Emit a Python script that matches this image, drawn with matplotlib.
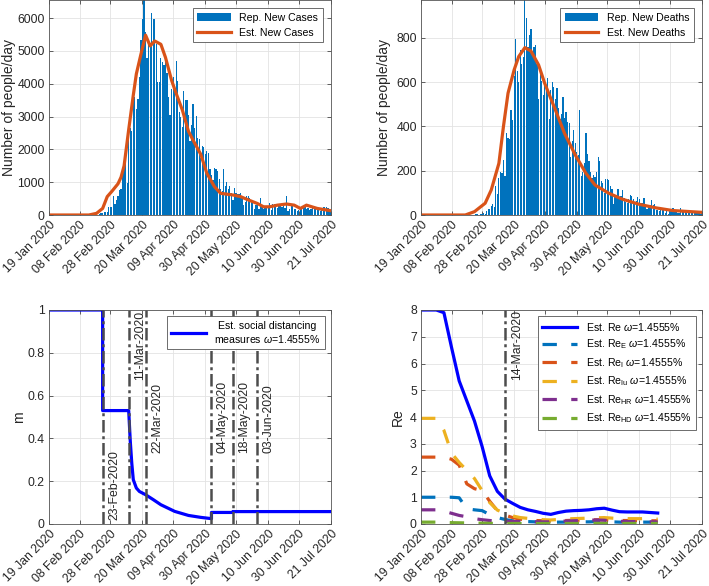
import numpy as np
import pandas as pd
import matplotlib
matplotlib.use('Agg')
import matplotlib.pyplot as plt
import matplotlib.ticker as mticker

plt.rcParams['font.family'] = ['Liberation Sans', 'DejaVu Sans']
plt.rcParams['mathtext.fontset'] = 'custom'
plt.rcParams['mathtext.rm'] = 'Liberation Sans'
plt.rcParams['mathtext.it'] = 'Liberation Sans:italic'

# ---------------- data ----------------
start_date = '2020-01-19'
end_date = '2020-07-21'
tick_dates = ['2020-01-19', '2020-02-08', '2020-02-28', '2020-03-20', '2020-04-09',
              '2020-04-30', '2020-05-20', '2020-06-10', '2020-06-30', '2020-07-21']

rep_first_day = '2020-02-21'
rep_cases = [20, 59, 71, 79, 93, 78, 250, 238, 240,
             566, 342, 466, 587, 769, 778, 1247, 1492, 1797, 977, 2313, 2651, 2547, 3497, 3590,
             3233, 3526, 4207, 5322, 5986, 6557, 5560, 4789, 5249, 5210, 6153, 5959, 5974, 5217,
             4050, 4053,
             4782, 4668, 4585, 4805, 4316, 3599, 3039, 3836, 4204, 3951, 4694, 4092, 3153, 2972,
             2667, 3786, 3493, 3491, 3047, 2256, 2729, 3370, 2646, 3021, 2357, 2324, 1739, 2091,
             2086, 1872,
             1965, 1900, 1389, 1221, 1075, 1444, 1401, 1327, 1083, 802, 744, 1402, 888, 992, 789,
             875, 675, 451, 813, 665, 642, 652, 669, 531, 300, 397, 584, 593, 516, 416, 355,
             178, 318, 321, 177, 518, 270, 197, 280, 283, 202, 379, 163, 346, 338, 301, 210, 329,
             333, 251, 262, 224, 570, 122, 190, 296, 259, 175, 174, 126, 142,
             187, 201, 223, 235, 192, 208, 138, 193, 229, 276, 188, 234, 169, 114, 162, 230, 233,
             249, 219, 190, 129]
rep_deaths = [1, 1, 1, 4, 4, 1, 5, 4, 8,
              5, 18, 27, 28, 41, 49, 36, 133, 97, 168, 196, 189, 250, 175, 368, 349, 345, 475,
              427, 627, 793, 651, 601, 743, 683, 712, 969, 889, 756, 812, 837,
              727, 760, 766, 681, 525, 636, 604, 542, 610, 570, 619, 431, 566, 602, 578, 525, 575,
              482, 433, 454, 534, 437, 464, 420, 415, 260, 333, 382, 323, 285,
              269, 474, 174, 195, 236, 369, 274, 243, 194, 165, 179, 172, 195, 262, 242, 153, 145,
              99, 162, 161, 156, 130, 119, 50, 92, 78, 117, 70, 87, 111, 75,
              60, 55, 71, 88, 85, 72, 53, 65, 79, 71, 53, 56, 78, 44, 26, 34, 43, 66, 47, 49, 24,
              23, 18, 30, 30, 30, 8, 24, 6, 23,
              21, 30, 15, 21, 7, 8, 30, 15, 12, 12, 7, 7, 13, 17, 20, 11, 13, 9, 12, 3, 15]

est_case_dates = ['2020-01-19', '2020-02-14', '2020-02-19', '2020-02-23', '2020-02-26', '2020-02-29',
                  '2020-03-04', '2020-03-06', '2020-03-08', '2020-03-11', '2020-03-14', '2020-03-16',
                  '2020-03-19', '2020-03-22', '2020-03-25', '2020-03-28', '2020-04-01', '2020-04-04',
                  '2020-04-08', '2020-04-11', '2020-04-15', '2020-04-19', '2020-04-22', '2020-04-27',
                  '2020-05-01', '2020-05-06', '2020-05-10', '2020-05-18', '2020-05-23', '2020-05-28',
                  '2020-06-03', '2020-06-07', '2020-06-11', '2020-06-16', '2020-06-22', '2020-06-27',
                  '2020-07-01', '2020-07-05', '2020-07-12', '2020-07-21']
est_cases = [0, 0, 50, 200, 560, 720, 950, 1150, 1500, 2600, 3650, 4300, 4900, 5480, 5150, 5300,
             5200, 4800, 4100, 3700, 3200, 2550, 2280, 1850, 1270, 860, 660, 610, 560, 460, 350,
             250, 250, 300, 335, 300, 200, 300, 200, 130]

est_death_dates = ['2020-01-19', '2020-02-17', '2020-02-23', '2020-03-01', '2020-03-05', '2020-03-10',
                   '2020-03-13', '2020-03-16', '2020-03-20', '2020-03-23', '2020-03-27', '2020-03-31',
                   '2020-04-05', '2020-04-09', '2020-04-16', '2020-04-22', '2020-04-29', '2020-05-06',
                   '2020-05-12', '2020-05-21', '2020-05-30', '2020-06-10', '2020-06-21', '2020-07-02',
                   '2020-07-21']
est_deaths = [0, 0, 15, 53, 113, 233, 400, 550, 655, 715, 755, 740, 677, 594, 474, 368, 271, 188,
              135, 98, 71, 48, 32, 20, 12]

m_dates = ['2020-01-19', '2020-02-23', '2020-02-23', '2020-03-11', '2020-03-12', '2020-03-13',
           '2020-03-14', '2020-03-16', '2020-03-18', '2020-03-22', '2020-03-27', '2020-04-01',
           '2020-04-10', '2020-04-19', '2020-04-27', '2020-05-04', '2020-05-04', '2020-05-18',
           '2020-05-18', '2020-07-21']
m_vals = [1.0, 1.0, 0.53, 0.53, 0.39, 0.285, 0.207, 0.168, 0.152, 0.137, 0.114, 0.09, 0.059,
          0.040, 0.031, 0.025, 0.054, 0.054, 0.058, 0.058]

measure_dates = ['2020-02-23', '2020-03-11', '2020-03-22', '2020-05-04', '2020-05-18', '2020-06-03']
measure_labels = ['23-Feb-2020', '11-Mar-2020', '22-Mar-2020', '04-May-2020', '18-May-2020', '03-Jun-2020']

re_dates = ['2020-01-19', '2020-01-24', '2020-01-29', '2020-02-03', '2020-02-08', '2020-02-13',
            '2020-02-18', '2020-02-23', '2020-02-28', '2020-03-04', '2020-03-09', '2020-03-14',
            '2020-03-19', '2020-03-24', '2020-03-29', '2020-04-03', '2020-04-08', '2020-04-13',
            '2020-04-18', '2020-04-23', '2020-04-28', '2020-05-03', '2020-05-08', '2020-05-13',
            '2020-05-18', '2020-05-23', '2020-05-28', '2020-06-02', '2020-06-07', '2020-06-12',
            '2020-06-17', '2020-06-22']
re_total = [8.0, 8.0, 8.0, 7.9, 6.6, 5.35, 4.6, 3.85, 2.9, 1.8, 1.22, 0.93, 0.77, 0.62, 0.53, 0.47,
            0.40, 0.36, 0.43, 0.48, 0.50, 0.51, 0.53, 0.57, 0.59, 0.52, 0.46, 0.45, 0.45, 0.45,
            0.43, 0.41]
re_E = [1.0, 1.0, 1.0, 1.0, 1.0, 0.98, 0.57, 0.53, 0.5, 0.35, 0.24, 0.17, 0.12, 0.1, 0.09, 0.08,
        0.07, 0.06, 0.07, 0.07, 0.08, 0.08, 0.08, 0.09, 0.09, 0.08, 0.07, 0.07, 0.07, 0.07, 0.07, 0.06]
re_I = [2.5, 2.5, 2.5, 2.5, 2.42, 2.2, 1.5, 1.32, 1.25, 0.85, 0.5, 0.33, 0.24, 0.18, 0.15, 0.13,
        0.12, 0.11, 0.12, 0.13, 0.14, 0.14, 0.15, 0.16, 0.16, 0.15, 0.13, 0.13, 0.13, 0.13, 0.12, 0.12]
re_Iu = [3.95, 3.95, 3.95, 3.5, 2.65, 2.3, 2.0, 1.7, 1.25, 0.8, 0.52, 0.4, 0.3, 0.24, 0.21, 0.19,
         0.16, 0.15, 0.17, 0.19, 0.2, 0.21, 0.22, 0.23, 0.24, 0.22, 0.2, 0.2, 0.2, 0.2, 0.19, 0.18]
re_HR = [0.53, 0.53, 0.53, 0.48, 0.4, 0.32, 0.27, 0.2, 0.16, 0.13, 0.11, 0.1, 0.09, 0.09, 0.09,
         0.08, 0.08, 0.08, 0.1, 0.11, 0.12, 0.13, 0.14, 0.15, 0.14, 0.11, 0.1, 0.09, 0.09, 0.08, 0.08, 0.08]
re_HD = [0.07, 0.07, 0.07, 0.06, 0.05, 0.045, 0.04, 0.035, 0.03, 0.025, 0.02, 0.02, 0.02, 0.02,
         0.02, 0.02, 0.02, 0.02, 0.02, 0.02, 0.02, 0.02, 0.02, 0.02, 0.02, 0.02, 0.02, 0.02, 0.02,
         0.02, 0.02, 0.02]
re_event_date = '2020-03-14'
re_event_label = '14-Mar-2020'

omega_txt = r'$\omega$=1.4555%'

# ---------------- styling ----------------
BLUE_BAR = '#0072BD'
ORANGE = '#D95319'
YELLOW = '#EDB120'
PURPLE = '#7E2F8E'
GREEN = '#77AC30'
LBLUE = '#0072BD'
AXCOL = '#262626'
TICK_FS = 8.8
LAB_FS = 10
LEG_FS = 7.6
VLINE_STYLE = dict(color='#4d4d4d', lw=1.8, ls=(0, (5, 1.5, 1.2, 1.5)))

x0 = pd.Timestamp(start_date)
x1 = pd.Timestamp(end_date)
ticks = pd.to_datetime(tick_dates)
tick_labels = [t.strftime('%d %b %Y') for t in ticks]


def style_axes(ax, ylim, yticks):
    ax.set_xlim(x0, x1)
    ax.set_ylim(*ylim)
    ax.set_xticks(ticks)
    ax.set_xticklabels(tick_labels, rotation=45, ha='right', rotation_mode='anchor')
    ax.set_yticks(yticks)
    ax.yaxis.set_major_formatter(mticker.FormatStrFormatter('%g'))
    ax.tick_params(direction='in', length=3, width=0.5, top=True, right=True,
                   labelsize=TICK_FS, colors=AXCOL, pad=3)
    ax.grid(True, color='#e3e3e3', lw=0.6)
    ax.set_axisbelow(True)
    for s in ax.spines.values():
        s.set_color('#555555')
        s.set_linewidth(0.6)


def add_legend(ax, handles, **kw):
    leg = ax.legend(handles=handles, loc='upper right', fontsize=LEG_FS, fancybox=False,
                    edgecolor='#555555', framealpha=1, **kw)
    leg.get_frame().set_linewidth(0.6)
    return leg


fig = plt.figure(figsize=(7.09, 5.86), dpi=100)
W, H = 709.0, 586.0
ax1 = fig.add_axes([49 / W, 1 - 215 / H, 282 / W, 215 / H])
ax2 = fig.add_axes([421 / W, 1 - 215 / H, 281 / W, 215 / H])
ax3 = fig.add_axes([49 / W, 1 - 524 / H, 282 / W, 214 / H])
ax4 = fig.add_axes([421 / W, 1 - 524 / H, 281 / W, 214 / H])

rep_dates = pd.date_range(rep_first_day, periods=len(rep_cases), freq='D')

# top left: cases
b = ax1.bar(rep_dates, rep_cases, width=0.8, color=BLUE_BAR, label='Rep. New Cases')
l, = ax1.plot(pd.to_datetime(est_case_dates), est_cases, color=ORANGE, lw=2.3, label='Est. New Cases')
style_axes(ax1, (0, 6550), np.arange(0, 6001, 1000))
ax1.set_ylabel('Number of people/day', fontsize=LAB_FS, color=AXCOL, labelpad=1)
add_legend(ax1, [b, l], handlelength=3.2, handleheight=0.9, borderaxespad=0.8)

# top right: deaths
b = ax2.bar(rep_dates, rep_deaths, width=0.8, color=BLUE_BAR, label='Rep. New Deaths')
l, = ax2.plot(pd.to_datetime(est_death_dates), est_deaths, color=ORANGE, lw=2.3, label='Est. New Deaths')
style_axes(ax2, (0, 970), np.arange(0, 801, 200))
ax2.set_ylabel('Number of people/day', fontsize=LAB_FS, color=AXCOL, labelpad=4)
add_legend(ax2, [b, l], handlelength=3.2, handleheight=0.9, borderaxespad=0.8)

# bottom left: social distancing
l, = ax3.plot(pd.to_datetime(m_dates), m_vals, color='blue', lw=2.3,
              label='Est. social distancing\nmeasures ' + omega_txt)
text_y = [0.02, 0.675, 0.33, 0.33, 0.33, 0.33]
for d, lab, ty in zip(measure_dates, measure_labels, text_y):
    dd = pd.Timestamp(d)
    ax3.axvline(dd, **VLINE_STYLE)
    ax3.text(dd + pd.Timedelta(days=7.5), ty, lab, rotation=90, ha='center', va='bottom',
             fontsize=TICK_FS, color=AXCOL)
style_axes(ax3, (0, 1), np.arange(0, 1.01, 0.2))
ax3.set_ylabel('m', fontsize=LAB_FS, color=AXCOL, labelpad=1.5)
leg = add_legend(ax3, [l], handlelength=3.3, borderaxespad=0.6)
for t in leg.get_texts():
    t.set_multialignment('center')

# bottom right: reproduction numbers
rd = pd.to_datetime(re_dates)
dash = (0, (4.5, 4.5))
hs = []
hs += ax4.plot(rd, re_total, color='blue', lw=2.3, label='Est. Re ' + omega_txt)
hs += ax4.plot(rd, re_E, color=LBLUE, lw=2.3, ls=dash, label=r'Est. Re$_{\mathrm{E}}$ ' + omega_txt)
hs += ax4.plot(rd, re_I, color=ORANGE, lw=2.3, ls=dash, label=r'Est. Re$_{\mathrm{I}}$ ' + omega_txt)
hs += ax4.plot(rd, re_Iu, color=YELLOW, lw=2.3, ls=dash, label=r'Est. Re$_{\mathrm{Iu}}$ ' + omega_txt)
hs += ax4.plot(rd, re_HR, color=PURPLE, lw=2.3, ls=dash, label=r'Est. Re$_{\mathrm{HR}}$ ' + omega_txt)
hs += ax4.plot(rd, re_HD, color=GREEN, lw=2.3, ls=dash, label=r'Est. Re$_{\mathrm{HD}}$ ' + omega_txt)
ev = pd.Timestamp(re_event_date)
ax4.axvline(ev, **VLINE_STYLE)
ax4.text(ev + pd.Timedelta(days=8), 5.4, re_event_label, rotation=90, ha='center', va='bottom',
         fontsize=TICK_FS, color=AXCOL)
style_axes(ax4, (0, 8), np.arange(0, 9, 1))
ax4.set_ylabel('Re', fontsize=LAB_FS, color=AXCOL, labelpad=4)
add_legend(ax4, hs, handlelength=3.3, labelspacing=0.45, borderaxespad=0.6)

fig.savefig('out.png', dpi=100)
